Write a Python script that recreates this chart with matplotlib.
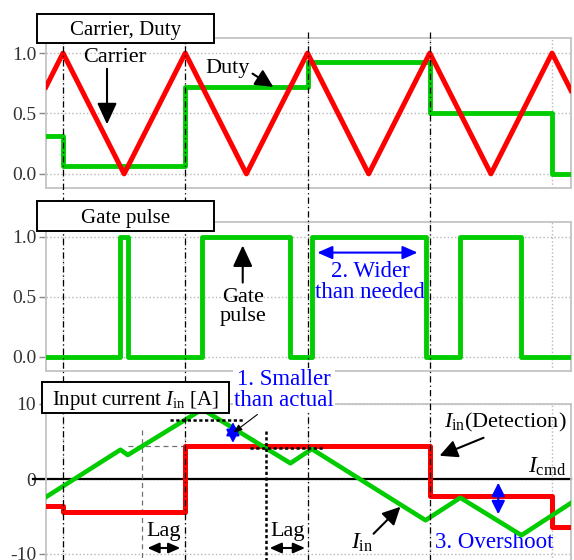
import matplotlib
matplotlib.use("Agg")
import matplotlib.pyplot as plt
from matplotlib.patches import Rectangle
from matplotlib.lines import Line2D
from matplotlib.transforms import blended_transform_factory

plt.rcParams['font.family'] = 'serif'
plt.rcParams['font.serif'] = ['Liberation Serif', 'Times New Roman', 'DejaVu Serif']
plt.rcParams['mathtext.fontset'] = 'custom'
plt.rcParams['mathtext.rm'] = 'Liberation Serif'
plt.rcParams['mathtext.it'] = 'Liberation Serif:italic'
plt.rcParams['axes.unicode_minus'] = False

W, H = 574, 560

# time in carrier periods, carrier peaks at t = 0..4
t_start, t_end = -0.139, 4.155

carrier_t = [t_start, 0, 0.5, 1, 1.5, 2, 2.5, 3, 3.5, 4, t_end]
carrier_v = [0.72, 1, 0, 1, 0, 1, 0, 1, 0, 1, 0.69]

duty_t = [t_start, 0, 1, 2, 3, 4, t_end]
duty_v = [0.31, 0.065, 0.72, 0.93, 0.5, 0.0, 0.0]

gate_t = [t_start, 0.47, 0.53, 1.14, 1.86, 2.035, 2.965, 3.25, 3.75, t_end]
gate_v = [0, 1, 0, 1, 0, 1, 0, 1, 0, 0]

iin_t = [t_start, 0.47, 0.53, 1.14, 1.86, 2.035, 2.965, 3.25, 3.75, t_end]
iin_v = [-2.4, 3.9, 3.2, 9.3, 2.1, 4.0, -5.5, -2.5, -7.5, -3.2]

det_t = [t_start, 0, 1, 3, 4, t_end]
det_v = [-3.6, -4.4, 4.4, -2.2, -6.4, -6.4]

period_ticks = [0, 1, 2, 3, 4]
duty_ticks = [0.0, 0.5, 1.0]
duty_labels = ['0.0', '0.5', '1.0']
cur_ticks = [-10, 0, 10]
cur_labels = ['-10', '0', '10']

RED = '#ff0000'
GREEN = '#00cc00'
BLUE = '#0000ff'
SPINE = '#c4c4c4'

fig = plt.figure(figsize=(W / 100, H / 100), dpi=100)


def make_axes(top, bottom):
    ax = fig.add_axes([46 / W, 1 - bottom / H, 525 / W, (bottom - top) / H])
    ax.set_xlim(t_start, t_end)
    ax.set_xticks(period_ticks)
    ax.tick_params(axis='x', length=0, labelbottom=False)
    ax.tick_params(axis='y', length=5, width=1, color='#888888', labelsize=14, pad=2,
                   labelcolor='#333333')
    for s in ax.spines.values():
        s.set_color(SPINE)
        s.set_linewidth(1.3)
    ax.grid(True, color='#b8b8b8', linestyle=':', linewidth=1)
    return ax


ax1 = make_axes(38, 188)
ax2 = make_axes(222, 371)
ax3 = make_axes(404, 563)

for ax in (ax1, ax2):
    ax.set_ylim(-0.117, 1.125)
    ax.set_yticks(duty_ticks)
    ax.set_yticklabels(duty_labels)
ax3.set_ylim(-11.2, 10)
ax3.set_yticks(cur_ticks)
ax3.set_yticklabels(cur_labels)

# panel 1: carrier and duty
ax1.plot(duty_t, duty_v, drawstyle='steps-post', color=GREEN, lw=3.5, zorder=3)
ax1.plot(carrier_t, carrier_v, color=RED, lw=3.6, zorder=4)
ax1.text(0.425, 0.96, 'Carrier', ha='center', va='center', fontsize=16)
ax1.annotate('', xy=(0.36, 0.41), xytext=(0.36, 0.87),
             arrowprops=dict(arrowstyle='-|>,head_length=0.65,head_width=0.3', color='k',
                             lw=1.5, mutation_scale=20, shrinkA=0, shrinkB=0))
ax1.text(1.35, 0.87, 'Duty', ha='center', va='center', fontsize=16)
ax1.annotate('', xy=(1.72, 0.72), xytext=(1.55, 0.83),
             arrowprops=dict(arrowstyle='-|>,head_length=0.6,head_width=0.3', color='k',
                             lw=1.5, mutation_scale=18, shrinkA=0, shrinkB=0))

# panel 2: gate pulse
ax2.plot(gate_t, gate_v, drawstyle='steps-post', color=GREEN, lw=3.5, zorder=3)
ax2.annotate('', xy=(1.47, 0.93), xytext=(1.47, 0.62),
             arrowprops=dict(arrowstyle='-|>,head_length=0.65,head_width=0.3', color='k',
                             lw=1.5, mutation_scale=20, shrinkA=0, shrinkB=0))
ax2.text(1.47, 0.42, 'Gate\npulse', ha='center', va='center', fontsize=16, linespacing=1.0)
ax2.annotate('', xy=(2.9, 0.87), xytext=(2.08, 0.87),
             arrowprops=dict(arrowstyle='<|-|>,head_length=0.5,head_width=0.22', color=BLUE,
                             lw=1.5, mutation_scale=18, shrinkA=0, shrinkB=0))
ax2.text(2.51, 0.625, '2. Wider\nthan needed', ha='center', va='center', fontsize=16.5,
         color=BLUE, linespacing=1.0)

# panel 3: input current
ax3.plot([-0.245, t_end], [0, 0], color='k', lw=1.6, zorder=2, clip_on=False)
ax3.plot(det_t, det_v, drawstyle='steps-post', color=RED, lw=3.6, zorder=3)
ax3.plot(iin_t, iin_v, color=GREEN, lw=3.3, zorder=4)

# sampling / lag helpers
ax3.plot([0.646, 0.646], [6.5, -11.2], color='#707070', lw=0.9, ls=(0, (4, 3)), zorder=2)
ax3.plot([0.53, 1.0], [4.4, 4.4], color='#707070', lw=0.9, ls=(0, (4, 3)), zorder=2)
ax3.plot([1.66, 1.66], [6.4, -11.2], color='k', lw=1.8, ls=(0, (1.3, 1.0)), zorder=5)
ax3.plot([0.875, 1.47], [7.9, 7.9], color='k', lw=1.8, ls=(0, (1.3, 1.0)), zorder=5)
ax3.plot([1.53, 2.13], [4.1, 4.1], color='k', lw=1.8, ls=(0, (1.3, 1.0)), zorder=5)

ax3.annotate('', xy=(1.39, 4.8), xytext=(1.39, 7.6),
             arrowprops=dict(arrowstyle='<|-|>,head_length=0.5,head_width=0.25', color=BLUE,
                             lw=1.5, mutation_scale=16, shrinkA=0, shrinkB=0), zorder=6)
ax3.annotate('', xy=(1.395, 6.2), xytext=(1.59, 8.6),
             arrowprops=dict(arrowstyle='-|>,head_length=0.5,head_width=0.2', color='k',
                             lw=0.8, mutation_scale=10, shrinkA=0, shrinkB=0), zorder=6)

ax3.text(0.82, -7.0, 'Lag', ha='center', va='center', fontsize=16)
ax3.annotate('', xy=(0.96, -9.2), xytext=(0.69, -9.2),
             arrowprops=dict(arrowstyle='<|-|>,head_length=0.5,head_width=0.22', color='k',
                             lw=1.5, mutation_scale=14, shrinkA=0, shrinkB=0))
ax3.text(1.84, -7.0, 'Lag', ha='center', va='center', fontsize=16)
ax3.annotate('', xy=(1.98, -9.2), xytext=(1.69, -9.2),
             arrowprops=dict(arrowstyle='<|-|>,head_length=0.5,head_width=0.22', color='k',
                             lw=1.5, mutation_scale=14, shrinkA=0, shrinkB=0))

ax3.text(4.12, 7.5, r'$I_{\rm in}$(Detection)', ha='right', va='center', fontsize=16)
ax3.annotate('', xy=(3.08, 3.1), xytext=(3.44, 5.5),
             arrowprops=dict(arrowstyle='-|>,head_length=0.6,head_width=0.3', color='k',
                             lw=1.5, mutation_scale=18, shrinkA=0, shrinkB=0))
ax3.text(4.12, 1.6, r'$I_{\rm cmd}$', ha='right', va='center', fontsize=17)
ax3.text(2.45, -8.5, r'$I_{\rm in}$', ha='center', va='center', fontsize=17)
ax3.annotate('', xy=(2.76, -3.7), xytext=(2.54, -7.3),
             arrowprops=dict(arrowstyle='-|>,head_length=0.6,head_width=0.3', color='k',
                             lw=1.5, mutation_scale=18, shrinkA=0, shrinkB=0))
ax3.annotate('', xy=(3.56, -4.7), xytext=(3.56, -0.5),
             arrowprops=dict(arrowstyle='<|-|>,head_length=0.5,head_width=0.25', color=BLUE,
                             lw=1.5, mutation_scale=16, shrinkA=0, shrinkB=0))
ax3.text(3.53, -8.4, '3. Overshoot', ha='center', va='center', fontsize=16.5, color=BLUE)

# dash-dot period markers running through all panels
trans = blended_transform_factory(ax1.transData, fig.transFigure)
for t in period_ticks[:4]:
    fig.add_artist(Line2D([t, t], [1 - 32 / H, 0], transform=trans, color='k', lw=0.9,
                          ls=(0, (5, 2.5, 1, 2.5)), zorder=2))

# blue note above panel 3, hides the frame behind it
fig.text(284 / W, 1 - 390 / H, '1. Smaller\nthan actual', ha='center', va='center',
         fontsize=16.5, color=BLUE, linespacing=1.0, zorder=7,
         bbox=dict(facecolor='white', edgecolor='none', pad=1))


# panel title boxes
def title_box(x0, y0, x1, y1, label):
    fig.add_artist(Rectangle((x0 / W, 1 - y1 / H), (x1 - x0) / W, (y1 - y0) / H,
                             transform=fig.transFigure, facecolor='white',
                             edgecolor='black', lw=1.4, zorder=5))
    fig.text((x0 + x1) / 2 / W, 1 - (y0 + y1) / 2 / H, label, ha='center',
             va='center_baseline', fontsize=15, zorder=6)


title_box(37, 14, 214, 43, 'Carrier, Duty')
title_box(37, 201, 214, 231, 'Gate pulse')
title_box(42, 382, 229, 413, r'Input current $I_{\rm in}$ [A]')

fig.savefig('out.png', dpi=100)
